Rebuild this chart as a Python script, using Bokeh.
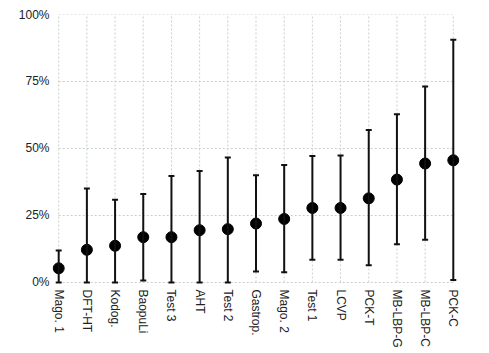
from bokeh.plotting import figure
from bokeh.models import ColumnDataSource, Whisker, TeeHead, FixedTicker, Range1d
from bokeh.embed import file_html
from bokeh.resources import INLINE

categories = ["Mago. 1", "DFT-HT", "Kodog.", "BaopuLi", "Test 3", "AHT", "Test 2",
              "Gastrop.", "Mago. 2", "Test 1", "LCVP", "PCK-T", "MB-LBP-G", "MB-LBP-C", "PCK-C"]
values = [5.3, 12.2, 13.7, 16.9, 16.9, 19.5, 19.9, 22.0, 23.7, 27.8, 27.8, 31.4, 38.4, 44.4, 45.6]
lower = [0.0, 0.0, 0.0, 0.7, 0.0, 0.0, 0.0, 4.1, 3.8, 8.5, 8.5, 6.4, 14.3, 15.9, 0.9]
upper = [11.9, 35.1, 30.9, 33.0, 39.7, 41.6, 46.6, 40.0, 43.8, 47.2, 47.4, 56.9, 62.8, 73.1, 90.6]
y_ticks = [0, 25, 50, 75, 100]
y_tick_labels = ["0%", "25%", "50%", "75%", "100%"]

x = list(range(len(categories)))
n = len(categories)
src = ColumnDataSource(dict(x=x, y=values, lower=lower, upper=upper))

pad = 0.22
p = figure(width=489, height=353, output_backend="svg", toolbar_location=None,
           x_range=Range1d(-pad, n - 1 + pad), y_range=Range1d(-1.5, 100),
           min_border_left=52, min_border_right=30, min_border_top=14, min_border_bottom=67)
p.outline_line_color = None
p.background_fill_color = "white"
p.xgrid.visible = False
p.ygrid.visible = False

grid_color = "#c8d0c8"
# horizontal gridlines spanning the category extent
p.segment(x0=[0] * len(y_ticks), x1=[n - 1] * len(y_ticks), y0=y_ticks, y1=y_ticks,
          line_color=grid_color, line_dash="2 2", line_width=1, level="underlay")
# vertical gridlines at categories
p.segment(x0=x, x1=x, y0=[y_ticks[0]] * n, y1=[y_ticks[-1]] * n,
          line_color=grid_color, line_dash="2 2", line_width=1, level="underlay")

w = Whisker(base="x", upper="upper", lower="lower", source=src,
            line_color="#111111", line_width=2, level="glyph",
            upper_head=TeeHead(size=6, line_color="#111111", line_width=2),
            lower_head=TeeHead(size=6, line_color="#111111", line_width=2))
p.add_layout(w)
p.scatter("x", "y", source=src, size=11, color="black")

p.xaxis.ticker = FixedTicker(ticks=x)
p.xaxis.major_label_overrides = {i: c for i, c in enumerate(categories)}
p.xaxis.major_label_orientation = "vertical"
p.yaxis.ticker = FixedTicker(ticks=y_ticks)
p.yaxis.major_label_overrides = {t: l for t, l in zip(y_ticks, y_tick_labels)}

for ax in (p.xaxis, p.yaxis):
    ax.axis_line_color = None
    ax.major_tick_line_color = None
    ax.minor_tick_line_color = None
    ax.major_label_text_font = "Liberation Sans"
    ax.major_label_text_font_size = "12px"
    ax.major_label_text_color = "#222222"
p.yaxis.major_label_standoff = -3
p.xaxis.major_label_standoff = -3

open("out.html", "w").write(file_html(p, INLINE))
